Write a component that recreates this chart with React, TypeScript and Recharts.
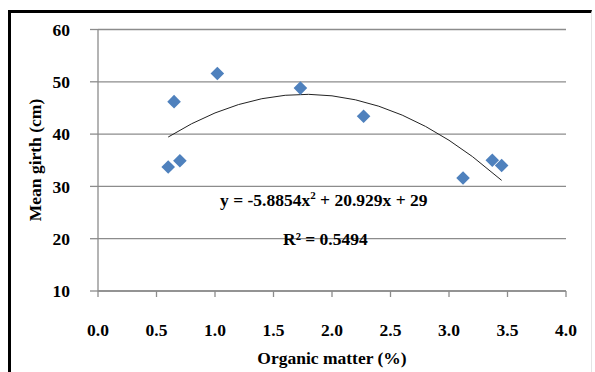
import React from "react";
import { ScatterChart, Scatter, XAxis, YAxis, CartesianGrid } from "recharts";

// organic matter (%) vs mean girth (cm)
const organicMatter = [0.6, 0.65, 0.7, 1.02, 1.73, 2.27, 3.12, 3.37, 3.45];
const meanGirth = [33.7, 46.2, 34.9, 51.6, 48.8, 43.4, 31.6, 35.0, 34.0];

// polynomial trendline coefficients (y = a x² + b x + c)
const trendA = -5.8854;
const trendB = 20.929;
const trendC = 29;
const trendX = [0.6, 0.8, 1.0, 1.2, 1.4, 1.6, 1.8, 2.0, 2.2, 2.4, 2.6, 2.8, 3.0, 3.2, 3.45];

const xTicks = [0, 0.5, 1, 1.5, 2, 2.5, 3, 3.5, 4];
const yTicks = [10, 20, 30, 40, 50, 60];

const points = organicMatter.map((x, i) => ({ x, y: meanGirth[i] }));
const trend = trendX.map((x) => ({ x, y: trendA * x * x + trendB * x + trendC }));

const FONT = '"Liberation Serif", "Times New Roman", serif';
const GRID = "#8c8c8c";
const FS = 17.5;

const Diamond = (props: any) => {
  const { cx, cy } = props;
  const r = 6.8;
  return (
    <polygon
      points={`${cx},${cy - r} ${cx + r},${cy} ${cx},${cy + r} ${cx - r},${cy}`}
      fill="#4f81bd"
    />
  );
};

const NoDot = () => <g />;

const XTick = (props: any) => {
  const { x, y, payload } = props;
  return (
    <text x={x} y={y} dy="0.71em" textAnchor="middle" fontFamily={FONT} fontWeight={700} fontSize={FS} fill="#000">
      {Number(payload.value).toFixed(1)}
    </text>
  );
};

const YTick = (props: any) => {
  const { x, y, payload } = props;
  return (
    <text x={x} y={y} dy="0.36em" textAnchor="end" fontFamily={FONT} fontWeight={700} fontSize={FS} fill="#000">
      {payload.value}
    </text>
  );
};

const textBox: React.CSSProperties = {
  position: "absolute",
  fontSize: FS,
  fontWeight: 700,
  whiteSpace: "nowrap",
  lineHeight: "20px",
};

export default function App() {
  return (
    <div style={{ position: "absolute", left: 0, top: 0, width: 595, height: 372, background: "#fff", fontFamily: FONT }}>
      <div
        style={{
          position: "absolute",
          left: 8,
          top: 10,
          width: 584,
          height: 362,
          borderTop: "3px solid #000",
          borderLeft: "3px solid #000",
          borderRight: "1px solid #e4e4e4",
          boxSizing: "border-box",
        }}
      />
      <ScatterChart
        width={595}
        height={372}
        margin={{ top: 29.5, right: 29, bottom: 0, left: 0 }}
        style={{ position: "absolute", left: 0, top: 0 }}
      >
        <CartesianGrid horizontal vertical={false} stroke={GRID} strokeWidth={1.3} />
        <XAxis
          type="number"
          dataKey="x"
          domain={[0, 4]}
          ticks={xTicks}
          height={81}
          stroke={GRID}
          strokeWidth={1.3}
          tickSize={6}
          tickMargin={27}
          tick={<XTick />}
          allowDataOverflow
        />
        <YAxis
          type="number"
          dataKey="y"
          domain={[10, 60]}
          ticks={yTicks}
          width={98}
          stroke={GRID}
          strokeWidth={1.3}
          tickSize={8}
          tickMargin={20}
          tick={<YTick />}
          allowDataOverflow
        />
        <Scatter
          data={trend}
          line={{ stroke: "#222", strokeWidth: 1 }}
          lineType="joint"
          shape={<NoDot />}
          isAnimationActive={false}
        />
        <Scatter data={points} shape={<Diamond />} isAnimationActive={false} />
      </ScatterChart>
      <div style={{ ...textBox, left: 220, top: 190 }}>
        y = -5.8854x<sup style={{ fontSize: 11, lineHeight: 0 }}>2</sup> + 20.929x + 29
      </div>
      <div style={{ ...textBox, left: 283, top: 229 }}>R² = 0.5494</div>
      <div style={{ ...textBox, left: 232, top: 348, width: 200, textAlign: "center" }}>
        Organic matter (%)
      </div>
      <div
        style={{
          ...textBox,
          left: 35,
          top: 160,
          transform: "translate(-50%, -50%) rotate(-90deg)",
        }}
      >
        Mean girth (cm)
      </div>
    </div>
  );
}
